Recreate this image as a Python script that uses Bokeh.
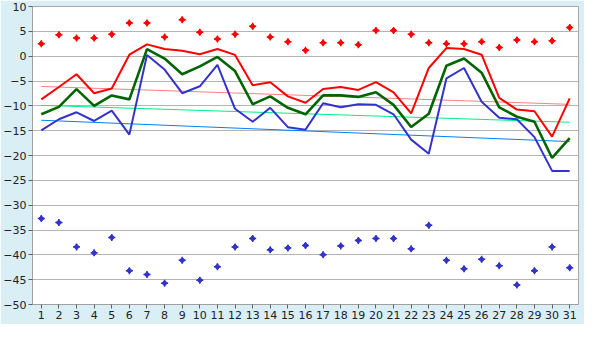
from bokeh.plotting import figure
from bokeh.models import Range1d, FixedTicker
from bokeh.embed import file_html
from bokeh.resources import INLINE

days = list(range(1, 32))

max_line = [-8.7, -6.2, -3.65, -7.46, -6.5, 0.3, 2.38, 1.43, 1.1, 0.4, 1.43, 0.25, -5.87, -5.24,
            -8.1, -9.37, -6.6, -6.2, -6.8, -5.24, -7.27, -11.5, -2.38, 1.62, 1.43, 0.29, -8.4,
            -10.76, -11.1, -16.2, -8.5]
mean_line = [-11.7, -10.2, -6.63, -10.0, -7.9, -8.7, 1.43, -0.48, -3.65, -2.06, -0.16, -3.0, -9.68,
             -8.1, -10.4, -11.7, -7.9, -7.9, -8.2, -7.27, -9.8, -14.25, -11.6, -1.94, -0.48, -3.33,
             -10.3, -12.2, -13.2, -20.5, -16.5]
min_line = [-14.95, -12.7, -11.3, -13.05, -10.95, -15.8, 0.25, -2.7, -7.46, -6.06, -1.75, -10.6,
            -13.2, -10.4, -14.3, -14.8, -9.49, -10.3, -9.68, -9.8, -11.7, -16.8, -19.66, -4.48,
            -2.38, -9.18, -12.4, -12.7, -16.3, -23.1, -23.1]
record_max = [2.5, 4.3, 3.65, 3.65, 4.4, 6.7, 6.7, 3.85, 7.33, 4.8, 3.46, 4.4, 6.0, 3.85, 2.9,
              1.18, 2.7, 2.7, 2.3, 5.18, 5.18, 4.4, 2.7, 2.5, 2.5, 2.9, 1.75, 3.27, 2.9, 3.08, 5.75]
record_min = [-32.7, -33.5, -38.4, -39.6, -36.5, -43.2, -43.96, -45.7, -41.1, -45.1, -42.4, -38.4,
              -36.7, -39.0, -38.6, -38.1, -39.96, -38.2, -37.1, -36.7, -36.7, -38.8, -34.06, -41.1,
              -42.8, -40.9, -42.2, -46.05, -43.2, -38.4, -42.6]
trend_max = [-6.1, -9.7]
trend_mean = [-9.9, -13.3]
trend_min = [-12.9, -17.2]

y_ticks = list(range(-50, 11, 5))

bg = "#daeef5"
p = figure(width=584, height=324, output_backend="svg", toolbar_location=None,
           x_range=Range1d(0.5, 31.5), y_range=Range1d(-50, 10),
           background_fill_color="white", border_fill_color=bg,
           min_border_left=28, min_border_right=6, min_border_top=6, min_border_bottom=20)
p.outline_line_color = "#a8a8a8"
p.outline_line_width = 1

p.xaxis.ticker = FixedTicker(ticks=days)
p.yaxis.ticker = FixedTicker(ticks=y_ticks)
p.xgrid.visible = False
p.ygrid.grid_line_color = "#b4b4b4"
p.ygrid.grid_line_width = 1
for ax in (p.xaxis, p.yaxis):
    ax.axis_line_color = "#a0a0a0"
    ax.major_tick_line_color = "#606060"
    ax.minor_tick_line_color = None
    ax.major_tick_out = 4
    ax.major_tick_in = 0
    ax.major_label_text_font = "DejaVu Sans"
    ax.major_label_text_font_size = "11px"
    ax.major_label_text_color = "#222222"
    ax.major_label_standoff = 2

ends = [days[0], days[-1]]
p.line(ends, trend_max, color="#ff8080", line_width=1)
p.line(ends, trend_mean, color="#00f080", line_width=1)
p.line(ends, trend_min, color="#0080ff", line_width=1)

p.line(days, max_line, color="#ff0000", line_width=2)
p.line(days, mean_line, color="#006400", line_width=2.6)
p.line(days, min_line, color="#3333cc", line_width=2)

for vals, col in ((record_max, "#ff0000"), (record_min, "#3333cc")):
    p.scatter(days, vals, marker="cross", size=7, line_color=col, line_width=1.5)
    p.scatter(days, vals, marker="square", size=4, color=col, angle=0.785)

html = file_html(p, INLINE)
open("out.html", "w").write(html)
